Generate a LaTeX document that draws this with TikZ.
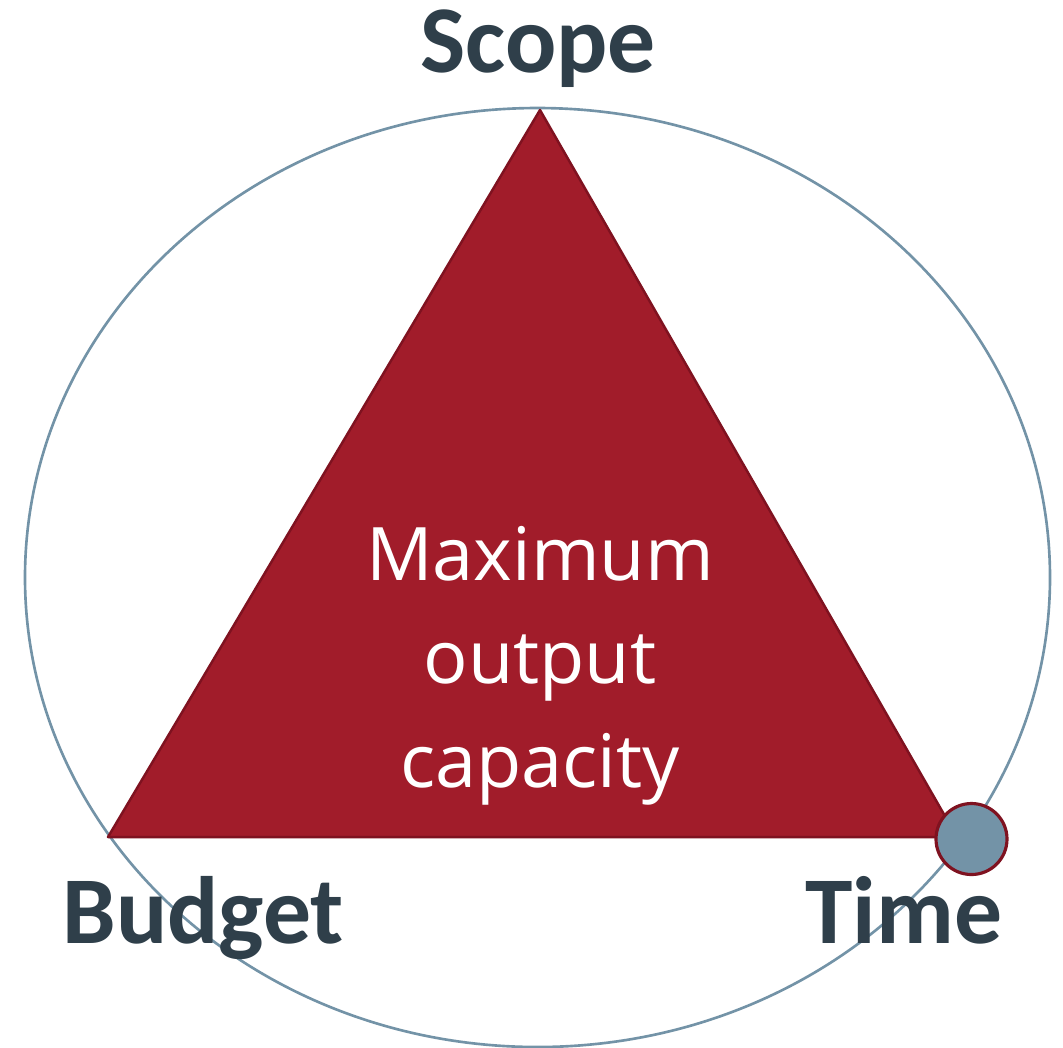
\documentclass[tikz,border=0pt]{standalone}
\usepackage{fontspec}
\setmainfont{Carlito}
\newfontfamily\innerfont{Open Sans}
\definecolor{triRed}{HTML}{A11C2A}
\definecolor{triEdge}{HTML}{7F1220}
\definecolor{ringBlue}{HTML}{7393A7}
\definecolor{labelSlate}{HTML}{2F3F4A}
\tikzset{
  corner/.style={font=\fontsize{27.2}{30}\selectfont\bfseries, text=labelSlate, inner sep=0pt, anchor=base},
}
\begin{document}
\begin{tikzpicture}[x=0.01cm,y=-0.01cm]
		\useasboundingbox (0,0) rectangle (1063,1047);
		
		\draw[ringBlue, line width=0.75pt] (537.5,577.5) ellipse (512.5 and 469.5);
		
		\coordinate (scopeTip) at (540,110);
		\coordinate (budgetTip) at (108,837);
		\coordinate (timeTip) at (957,837);
		\draw[triEdge, fill=triRed, line width=0.7pt, line join=round] (scopeTip) -- (budgetTip) -- (timeTip) -- cycle;
		
		\node[white, align=center, font=\innerfont\fontsize{21}{29.3}\selectfont, inner sep=0pt, anchor=base] (output) at (540,787) {Maximum\\output\\capacity};
		
		\draw[triEdge, fill=ringBlue, line width=0.9pt] (971.5,839) circle (35.5);
		
		\node[corner] (scope) at (538,72) {Scope};
		\node[corner] (budget) at (203,943) {Budget};
		\node[corner] (time) at (904,943) {Time};
	\end{tikzpicture}
\end{document}
